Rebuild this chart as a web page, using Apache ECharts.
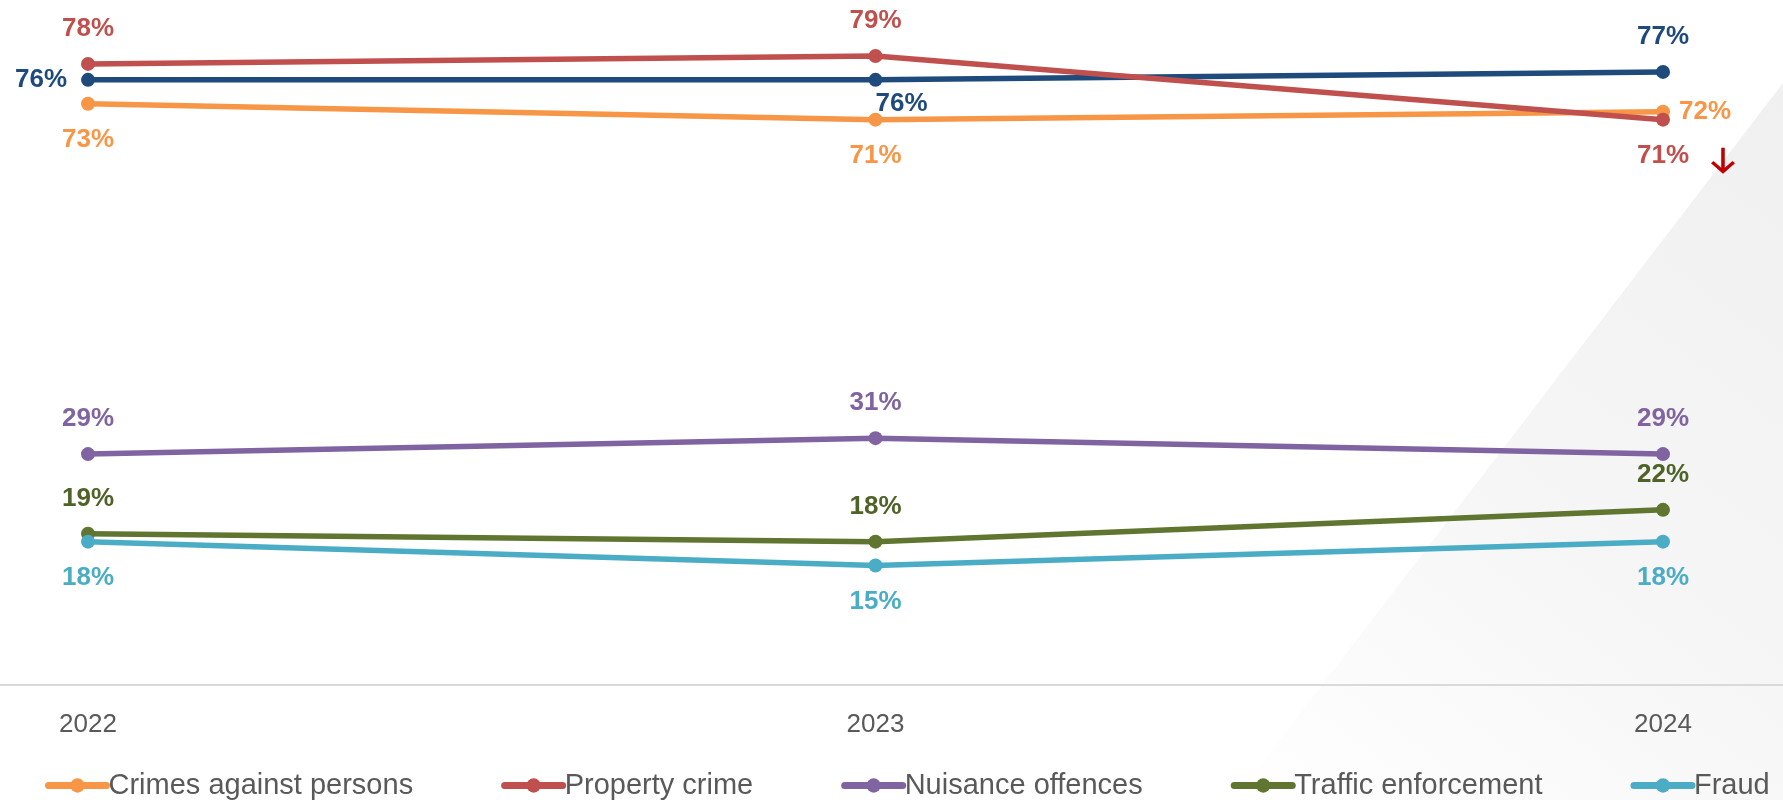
<!DOCTYPE html>
<html>
<head>
<meta charset="utf-8">
<title>Perceived priorities 2022–2024</title>
<script src="https://cdn.jsdelivr.net/npm/echarts@6/dist/echarts.min.js"></script>
<style>
  html, body { margin: 0; padding: 0; background: #ffffff; }
  #chart { width: 1783px; height: 800px; }
</style>
</head>
<body>
<div id="chart"></div>
<script>
// Survey years on the category axis
const years = ['2022', '2023', '2024'];

// Share of respondents (%) per year
const overall = [76, 76, 77];
const crimesAgainstPersons = [73, 71, 72];
const propertyCrime = [78, 79, 71];
const nuisanceOffences = [29, 31, 29];
const trafficEnforcement = [19, 18, 22];
const fraud = [18, 15, 18];

// Where each point's value label sits relative to its marker
const labelSides = {
  overall: ['left', 'bottom', 'top'],
  crimesAgainstPersons: ['bottom', 'bottom', 'right'],
  propertyCrime: ['top', 'top', 'bottom'],
  nuisanceOffences: ['top', 'top', 'top'],
  trafficEnforcement: ['top', 'top', 'top'],
  fraud: ['bottom', 'bottom', 'bottom']
};

const FONT = '"Liberation Sans", Arial, sans-serif';

// Down arrow with an open V head
const ARROW_DOWN = 'path://M10.5 0H13.5V19.4L20 12.9L22.1 15L12 25.1L1.9 15L4 12.9L10.5 19.4Z';

function sideStyle(side) {
  if (side === 'top') return { position: 'top', distance: 15 };
  if (side === 'bottom') return { position: 'bottom', distance: 16 };
  if (side === 'left') return { position: 'left', distance: 14 };
  return { position: 'right', distance: 9 };
}

function makeSeries(name, values, sides, lineColor, labelColor, extra) {
  return Object.assign({
    name: name,
    type: 'line',
    data: values.map(function (v, i) {
      return { value: v, label: sideStyle(sides[i]) };
    }),
    symbol: 'circle',
    symbolSize: 14,
    showAllSymbol: true,
    lineStyle: { color: lineColor, width: 5.5 },
    itemStyle: { color: lineColor },
    label: {
      show: true,
      formatter: '{c}%',
      color: labelColor,
      fontFamily: FONT,
      fontWeight: 'bold',
      fontSize: 26
    },
    emphasis: { disabled: true },
    animation: false
  }, extra || {});
}

const overallSeries = makeSeries('Overall', overall, labelSides.overall, '#1F4A7C', '#1F4A7C');
// the 2023 label of this line sits just below and to the right of its marker
overallSeries.data[1].label = { position: 'bottom', distance: 4, offset: [26, 0] };

const series = [
  overallSeries,
  makeSeries('Crimes against persons', crimesAgainstPersons, labelSides.crimesAgainstPersons, '#F79646', '#F79646'),
  makeSeries('Property crime', propertyCrime, labelSides.propertyCrime, '#C0504D', '#C0504D', {
    // downward arrow marking the 2024 drop
    markPoint: {
      symbol: ARROW_DOWN,
      symbolSize: [24, 26],
      symbolOffset: [60, 41],
      silent: true,
      animation: false,
      itemStyle: { color: '#C00000' },
      label: { show: false },
      data: [{ coord: [years[2], propertyCrime[2]] }]
    }
  }),
  makeSeries('Nuisance offences', nuisanceOffences, labelSides.nuisanceOffences, '#8064A2', '#8064A2'),
  makeSeries('Traffic enforcement', trafficEnforcement, labelSides.trafficEnforcement, '#5F7530', '#4F6228'),
  makeSeries('Fraud', fraud, labelSides.fraud, '#4BACC6', '#4BACC6')
];

const chart = echarts.init(document.getElementById('chart'), null, { renderer: 'canvas' });

chart.setOption({
  backgroundColor: '#ffffff',
  animation: false,
  textStyle: { fontFamily: FONT },
  // faint diagonal panel in the lower right corner
  graphic: [{
    type: 'polygon',
    z: -10,
    silent: true,
    shape: { points: [[1783, 83], [1783, 800], [1234, 800]] },
    style: {
      fill: new echarts.graphic.LinearGradient(1, 0, 0, 1, [
        { offset: 0, color: '#f0f0f0' },
        { offset: 0.55, color: '#f6f6f6' },
        { offset: 1, color: '#ffffff' }
      ])
    }
  }],
  grid: [
    { left: 88, right: 120, top: 48, bottom: 115, containLabel: false },
    { left: 0, right: 0, top: 48, bottom: 115, containLabel: false }
  ],
  xAxis: [
    {
      type: 'category',
      data: years,
      boundaryGap: false,
      axisLine: { show: false },
      axisTick: { show: false },
      splitLine: { show: false },
      axisLabel: { color: '#595959', fontSize: 26, fontFamily: FONT, margin: 27 }
    },
    {
      // full-width baseline
      type: 'value',
      gridIndex: 1,
      axisLine: { show: true, onZero: false, lineStyle: { color: '#d9d9d9', width: 2 } },
      axisTick: { show: false },
      axisLabel: { show: false },
      splitLine: { show: false }
    }
  ],
  yAxis: [
    { type: 'value', min: 0, max: 80, show: false, splitLine: { show: false } },
    { type: 'value', gridIndex: 1, show: false, splitLine: { show: false } }
  ],
  legend: {
    data: ['Crimes against persons', 'Property crime', 'Nuisance offences', 'Traffic enforcement', 'Fraud'],
    left: 40,
    top: 766,
    itemWidth: 58,
    itemHeight: 18,
    itemGap: 88,
    selectedMode: false,
    lineStyle: { width: 7, cap: 'round' },
    textStyle: { color: '#595959', fontSize: 29, fontFamily: FONT, padding: [0, 0, 0, -3] }
  },
  series: series
});
</script>
</body>
</html>
